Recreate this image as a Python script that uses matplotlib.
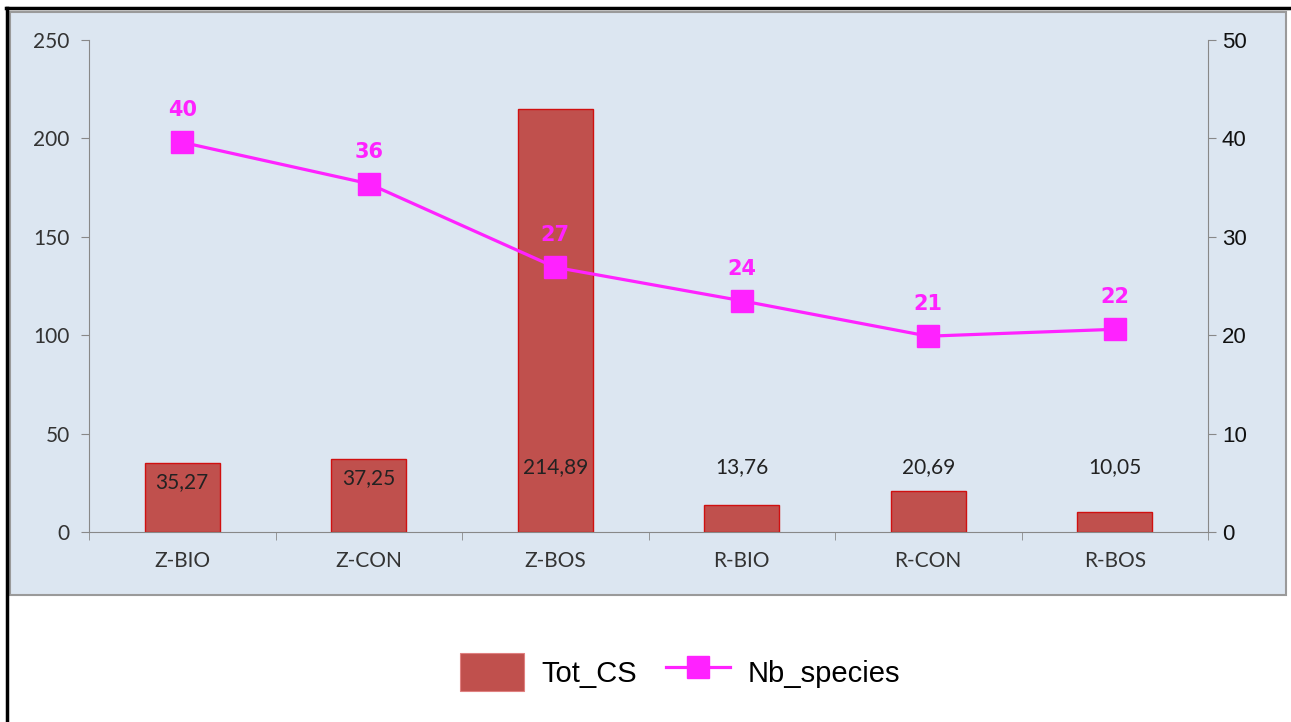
import matplotlib
matplotlib.use("Agg")
import matplotlib.pyplot as plt
from matplotlib.patches import Rectangle
from matplotlib.lines import Line2D

categories = ["Z-BIO", "Z-CON", "Z-BOS", "R-BIO", "R-CON", "R-BOS"]
tot_cs = [35.27, 37.25, 214.89, 13.76, 20.69, 10.05]
tot_cs_labels = ["35,27", "37,25", "214,89", "13,76", "20,69", "10,05"]
nb_species = [39.6, 35.4, 26.9, 23.5, 19.9, 20.6]
nb_species_labels = ["40", "36", "27", "24", "21", "22"]
left_ticks = [0, 50, 100, 150, 200, 250]
right_ticks = [0, 10, 20, 30, 40, 50]

# layout (label heights in data units of left axis)
bar_label_y = [25.4, 27.4, 33.0, 33.0, 33.0, 33.0]

W, H = 1291, 722
fig = plt.figure(figsize=(W / 100, H / 100), dpi=100)
fig.patch.set_facecolor("white")

def fx(px):
    return px / W

def fy(py):
    return 1 - py / H

# panel background
panel = Rectangle((fx(10), fy(595)), fx(1286) - fx(10), fy(12) - fy(595),
                  transform=fig.transFigure, facecolor="#dce6f1",
                  edgecolor="#9a9a9a", linewidth=1.5, zorder=-10)
fig.add_artist(panel)
# outer black border (top and left)
fig.add_artist(Line2D([fx(6), fx(1291)], [fy(8), fy(8)], transform=fig.transFigure,
                      color="black", linewidth=2.5, zorder=-5))
fig.add_artist(Line2D([fx(7), fx(7)], [fy(8), 0], transform=fig.transFigure,
                      color="black", linewidth=2.5, zorder=-5))

ax = fig.add_axes([fx(89), fy(532), fx(1208) - fx(89), fy(40) - fy(532)])
ax.set_facecolor("none")
x = list(range(len(categories)))
bars = ax.bar(x, tot_cs, width=0.4, color="#c0504d", edgecolor="#d01010",
              linewidth=1.0, zorder=2)
ax.set_xlim(-0.5, len(categories) - 0.5)
ax.set_ylim(0, 250)
ax.set_yticks(left_ticks)
ax.set_yticklabels([str(t) for t in left_ticks], fontsize=15, family="Lato",
                   color="#333333")
ax.set_xticks(x)
ax.set_xticklabels(categories, fontsize=15, family="Lato", color="#333333")
ax.tick_params(axis="x", length=0, pad=14)
ax.set_xticks([i - 0.5 for i in range(len(categories) + 1)], minor=True)
ax.tick_params(axis="x", which="minor", length=6, color="#888888", direction="out")
ax.tick_params(axis="y", length=6, color="#888888", direction="out", pad=8)
for s in ["top", "right"]:
    ax.spines[s].set_visible(False)
ax.spines["left"].set_color("#888888")
ax.spines["bottom"].set_color("#888888")

for xi, lab, ly in zip(x, tot_cs_labels, bar_label_y):
    ax.text(xi, ly, lab, ha="center", va="center", fontsize=15, family="Lato",
            color="#222222", zorder=4)

ax2 = ax.twinx()
ax2.set_ylim(0, 50)
ax2.set_yticks(right_ticks)
ax2.set_yticklabels([str(t) for t in right_ticks], fontsize=16,
                    family="Liberation Sans", color="#111111")
ax2.tick_params(axis="y", length=6, color="#888888", direction="out", pad=4)
for s in ["top", "left", "bottom"]:
    ax2.spines[s].set_visible(False)
ax2.spines["right"].set_color("#888888")
line, = ax2.plot(x, nb_species, color="#ff22ff", linewidth=2.3, marker="s",
                 markersize=16.5, markerfacecolor="#ff22ff", markeredgecolor="#ff22ff",
                 zorder=5)
for xi, v, lab in zip(x, nb_species, nb_species_labels):
    ax2.annotate(lab, (xi, v), xytext=(0, 23), textcoords="offset points",
                 ha="center", va="center", fontsize=15, fontweight="bold",
                 family="DejaVu Sans", color="#ff22ff")

handles = [Rectangle((0, 0), 1, 1, facecolor="#c0504d", edgecolor="#e08080", linewidth=0.8),
           Line2D([], [], color="#ff22ff", linewidth=2.3, marker="s", markersize=16)]
fig.legend(handles, ["Tot_CS", "Nb_species"], loc="center", bbox_to_anchor=(fx(680), fy(672)),
           ncol=2, frameon=False, prop={"family": "Liberation Sans", "size": 21},
           handlelength=2.2, handleheight=1.6, columnspacing=1.0, handletextpad=0.6)

fig.savefig("out.png", dpi=100)
